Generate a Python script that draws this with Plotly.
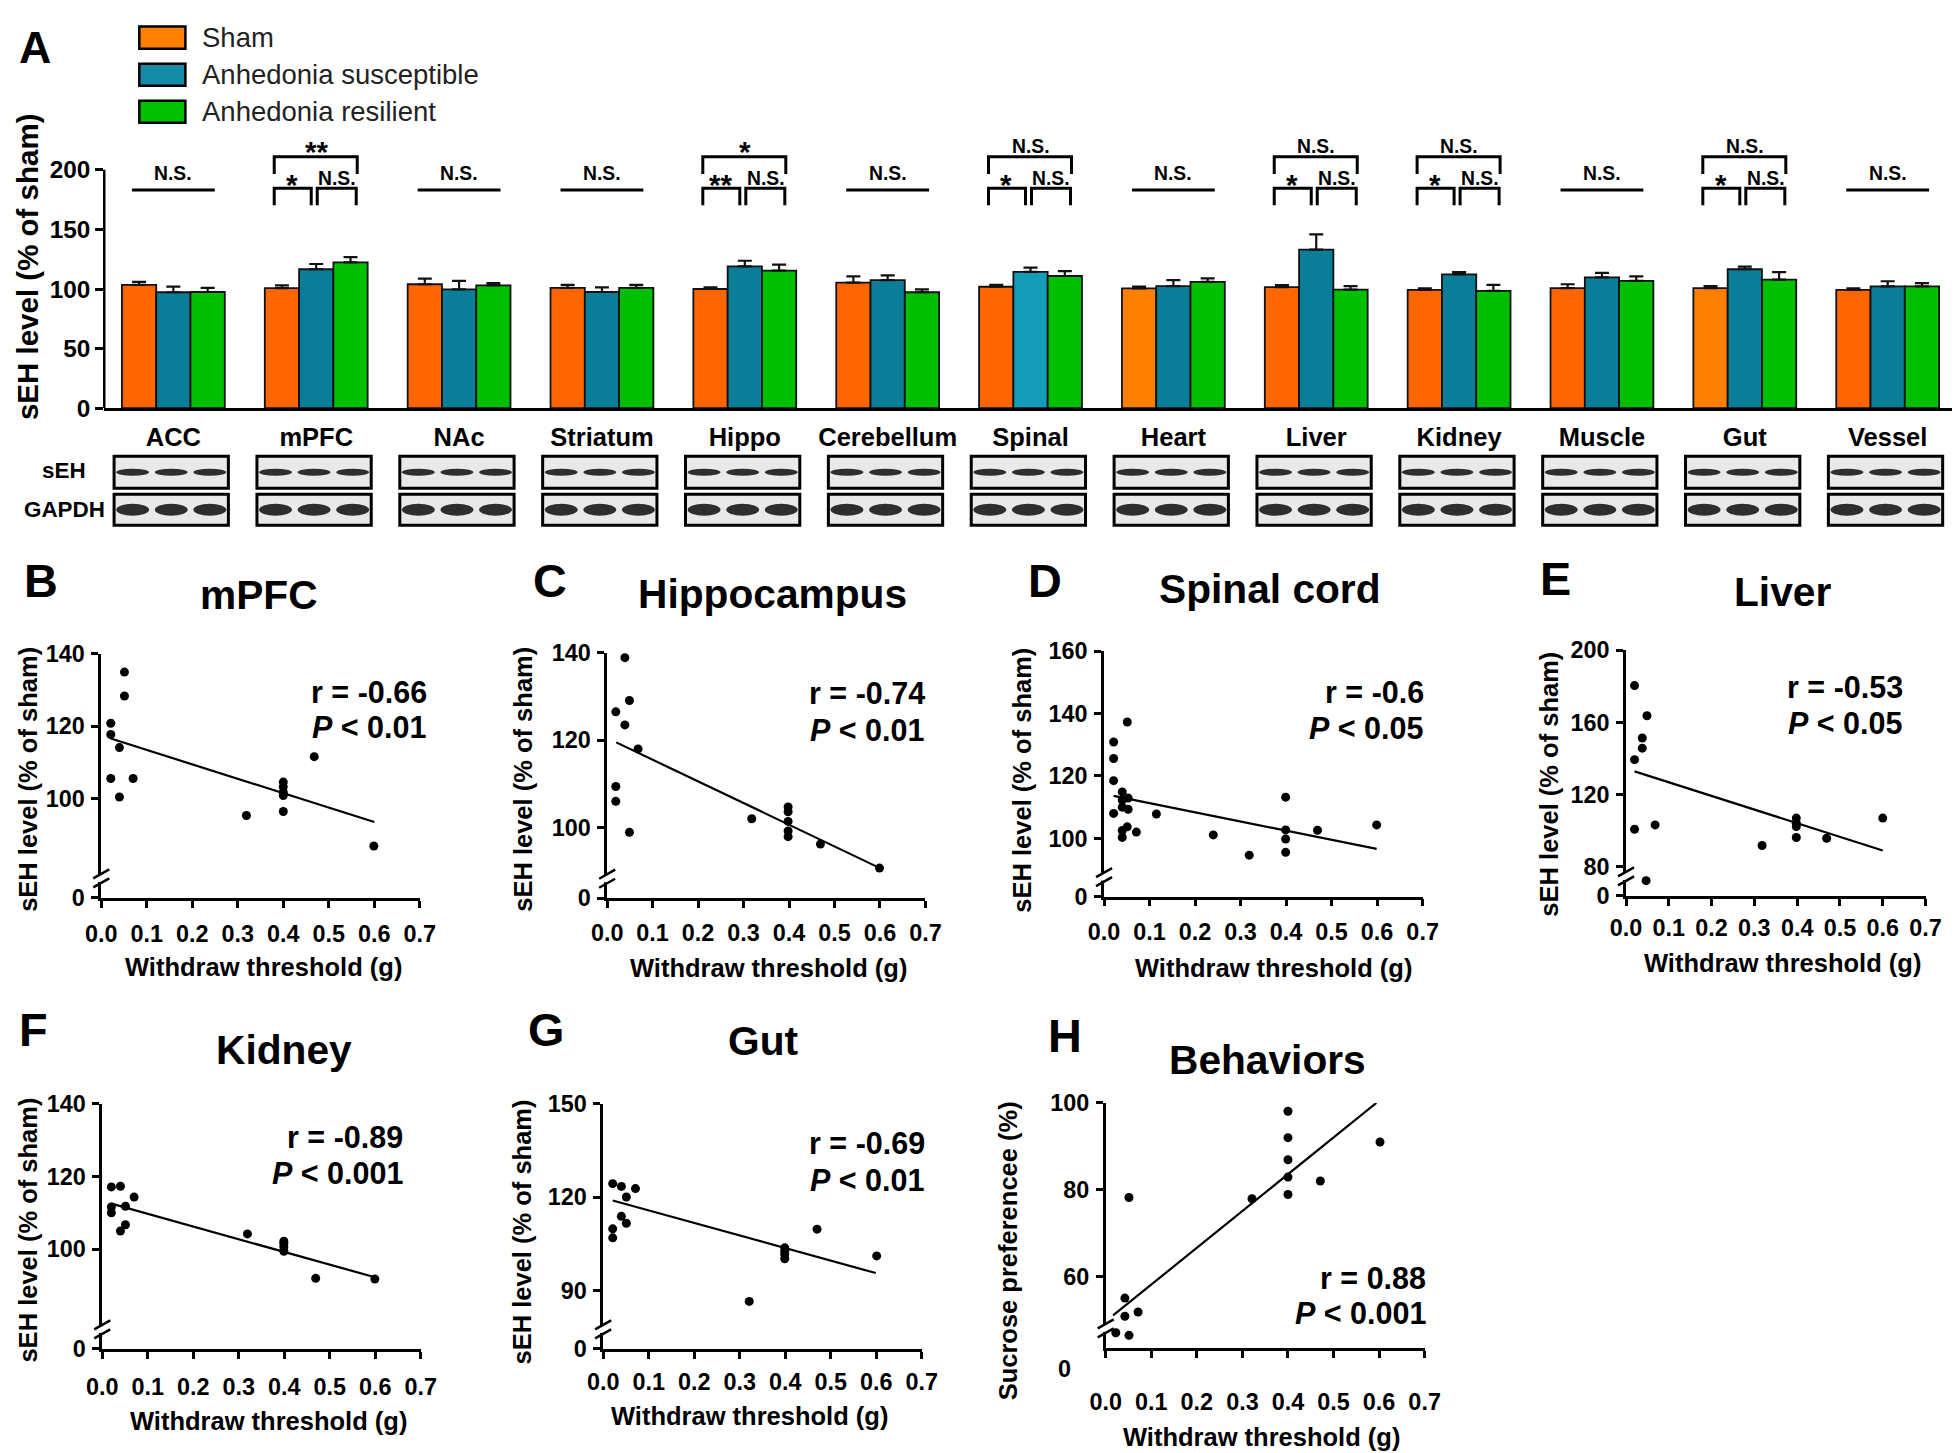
import math
import plotly.graph_objects as go

# ---- page geometry -------------------------------------------------------
# Target positions below are given in pixels of the final 1960x1453 picture.
# The page places the figure with a small offset and a slight scale; map
# picture pixels -> figure pixels with that (measured) relation.
W, H = 1960, 1453
AX, AY = 22.9, 22.4          # picture offset of the figure's top-left corner
SX, SY = 0.982, 0.980        # picture pixels per figure pixel
FIG_W = math.ceil((W - AX) / SX)
FIG_H = math.ceil((H - AY) / SY)
FS = 1 / SX                  # font compensation
FONT = "Liberation Sans, Arial, Helvetica, sans-serif"

# ---------------- Panel A data ----------------
categories = ['ACC', 'mPFC', 'NAc', 'Striatum', 'Hippo', 'Cerebellum', 'Spinal',
              'Heart', 'Liver', 'Kidney', 'Muscle', 'Gut', 'Vessel']
series_names = ['Sham', 'Anhedonia susceptible', 'Anhedonia resilient']
sham_mean = [103.5, 100.8, 104.0, 101.0, 100.0, 105.4, 101.9, 100.5, 101.6, 99.2, 100.8, 100.8, 99.2]
sham_sem = [2.5, 2.2, 4.7, 2.5, 1.4, 5.2, 1.6, 1.5, 1.7, 1.3, 3.2, 1.7, 1.3]
sus_mean = [97.3, 116.6, 99.7, 97.5, 119.0, 107.4, 114.4, 102.5, 133.0, 112.3, 109.8, 116.6, 102.2]
sus_sem = [4.7, 4.4, 7.1, 3.9, 4.7, 4.0, 3.6, 4.9, 12.8, 1.9, 3.8, 2.2, 4.3]
res_mean = [97.5, 122.3, 103.0, 101.0, 115.5, 97.3, 110.9, 106.0, 99.5, 98.4, 106.8, 107.9, 102.2]
res_sem = [3.5, 4.4, 2.0, 2.5, 4.9, 2.4, 4.1, 3.0, 3.0, 5.1, 3.8, 6.3, 2.8]
sig_all = ['N.S.', '', 'N.S.', 'N.S.', '', 'N.S.', '', 'N.S.', '', '', 'N.S.', '', 'N.S.']
sig_top = ['', '**', '', '', '*', '', 'N.S.', '', 'N.S.', 'N.S.', '', 'N.S.', '']
sig_left = ['', '*', '', '', '**', '', '*', '', '*', '*', '', '*', '']
sig_right = ['', 'N.S.', '', '', 'N.S.', '', 'N.S.', '', 'N.S.', 'N.S.', '', 'N.S.', '']
bar_ticks = [0, 50, 100, 150, 200]
blot_rows = ['sEH', 'GAPDH']

# ---------------- Panels B-H data ----------------
mpfc_x = [0.051, 0.051, 0.021, 0.021, 0.040, 0.021, 0.070, 0.040, 0.319, 0.40, 0.40, 0.40, 0.40, 0.40, 0.468, 0.599]
mpfc_y = [134.9, 128.3, 120.8, 117.7, 114.1, 105.6, 105.6, 100.5, 95.4, 104.6, 103.3, 101.8, 100.9, 96.5, 111.6, 87.0]
mpfc_fit_x = [0.021, 0.600]
mpfc_fit_y = [116.6, 93.6]

hippo_x = [0.039, 0.049, 0.019, 0.039, 0.068, 0.019, 0.019, 0.049, 0.318, 0.398, 0.398, 0.398, 0.398, 0.398, 0.469, 0.599]
hippo_y = [138.9, 129.1, 126.5, 123.5, 118.0, 109.4, 106.0, 98.9, 102.0, 104.7, 103.6, 101.4, 99.2, 97.9, 96.2, 90.7]
hippo_fit_x = [0.020, 0.600]
hippo_fit_y = [119.5, 90.7]

spinal_x = [0.021, 0.021, 0.021, 0.021, 0.051, 0.040, 0.040, 0.040, 0.053, 0.053, 0.051, 0.040,
            0.040, 0.071, 0.115, 0.240, 0.319, 0.399, 0.399, 0.399, 0.399, 0.469, 0.599]
spinal_y = [130.9, 125.6, 118.5, 108.0, 137.3, 114.9, 112.3, 110.0, 112.9, 109.3, 103.7, 102.5,
            100.3, 102.0, 107.8, 101.1, 94.6, 113.2, 102.7, 99.8, 95.5, 102.6, 104.3]
spinal_fit_x = [0.021, 0.599]
spinal_fit_y = [113.6, 96.6]

liver_x = [0.020, 0.049, 0.038, 0.038, 0.020, 0.020, 0.068, 0.047, 0.318, 0.398, 0.398, 0.398, 0.398, 0.469, 0.600]
liver_y = [180.4, 163.7, 151.3, 145.7, 139.3, 100.7, 103.1, 72.2, 91.7, 106.9, 104.1, 102.2, 96.1, 95.7, 106.9]
liver_fit_x = [0.020, 0.600]
liver_fit_y = [132.8, 88.9]

kidney_x = [0.020, 0.040, 0.020, 0.020, 0.051, 0.040, 0.051, 0.070, 0.319, 0.399, 0.399, 0.399, 0.399, 0.469, 0.599]
kidney_y = [117.1, 117.3, 111.6, 110.0, 111.8, 105.0, 106.7, 114.3, 104.2, 102.2, 101.5, 100.6, 99.4, 92.0, 91.8]
kidney_fit_x = [0.020, 0.599]
kidney_fit_y = [112.5, 92.3]

gut_x = [0.021, 0.040, 0.071, 0.051, 0.040, 0.051, 0.021, 0.021, 0.321, 0.399, 0.399, 0.399, 0.399, 0.470, 0.601]
gut_y = [124.3, 123.4, 122.7, 120.0, 113.8, 111.6, 109.8, 106.9, 86.5, 103.7, 102.6, 101.6, 100.2, 109.7, 101.1]
gut_fit_x = [0.021, 0.599]
gut_fit_y = [118.9, 95.6]

behav_x = [0.400, 0.400, 0.400, 0.400, 0.400, 0.602, 0.471, 0.321, 0.051, 0.042, 0.042, 0.071, 0.022, 0.051]
behav_y = [98.1, 92.0, 86.9, 82.9, 78.9, 91.0, 82.0, 77.9, 78.2, 55.0, 50.8, 51.8, 47.0, 46.4]
behav_fit_x = [0.016, 0.594]
behav_fit_y = [51.0, 100.0]

x_ticks = [0.0, 0.1, 0.2, 0.3, 0.4, 0.5, 0.6, 0.7]


def PX(x):
    return min(max((x - AX) / SX / FIG_W, 0.0), 1.0)


def PY(y):
    return min(max(1 - (y - AY) / SY / FIG_H, 0.0), 1.0)


def F(size):
    return round(size * FS, 1)


fig = go.Figure()
shapes = []
annotations = []


def ann(text, x, y, size, bold=True, xanchor='center', yanchor='middle', angle=0,
        xref='paper', yref='paper', yshift=0, color='black'):
    annotations.append(dict(
        text=text, x=x, y=y, xref=xref, yref=yref, showarrow=False,
        xanchor=xanchor, yanchor=yanchor, textangle=angle, yshift=yshift,
        font=dict(family=FONT, size=F(size), color=color, weight='bold' if bold else 'normal')))


# ---------------- Panel A ----------------
bar_colors = ['#FF6600', '#0A7E98', '#00BE00']
legend_colors = ['#FF8000', '#168BA8', '#00C000']
color_override = {('Sham', 'Heart'): '#FF8000', ('Sham', 'Gut'): '#FF8000',
                  ('Anhedonia susceptible', 'Spinal'): '#159CB9'}
cat_idx = list(range(len(categories)))
for name, m, s, c in zip(series_names, [sham_mean, sus_mean, res_mean],
                         [sham_sem, sus_sem, res_sem], bar_colors):
    cols = [color_override.get((name, cat), c) for cat in categories]
    fig.add_trace(go.Bar(
        x=cat_idx, y=m, name=name, showlegend=False,
        marker=dict(color=cols, line=dict(color='#111111', width=1.8)),
        error_y=dict(type='data', symmetric=False, array=s, arrayminus=[0] * len(s),
                     color='#111111', thickness=2.2, width=7),
        xaxis='x', yaxis='y'))

BAR_AX_X, BAR_END_X = 103, 1956
CAT0_X, CAT_STEP = 172.0, 142.6
BAR_BASE = 409
BAR_SCALE = 1.19          # picture px per data unit
Y_TOP = 232
layout_axes = {}
layout_axes['xaxis'] = dict(
    domain=[PX(BAR_AX_X), PX(BAR_END_X)],
    range=[(BAR_AX_X - CAT0_X) / CAT_STEP, (BAR_END_X - CAT0_X) / CAT_STEP], anchor='y',
    tickvals=cat_idx, ticktext=categories, ticks='', showline=True,
    linecolor='black', linewidth=2.5, showgrid=False, zeroline=False,
    tickfont=dict(family=FONT, size=F(25), color='black', weight='bold'),
    ticklabelstandoff=4)
layout_axes['yaxis'] = dict(
    domain=[PY(BAR_BASE), PY(BAR_BASE - Y_TOP * BAR_SCALE)], range=[0, Y_TOP], anchor='x',
    tickvals=bar_ticks, ticks='outside', ticklen=8, tickwidth=2.5, tickcolor='black',
    showline=False, showgrid=False, zeroline=False,
    tickfont=dict(family=FONT, size=F(24), color='black', weight='bold'))
# y axis line of panel A (stops at 200)
shapes.append(dict(type='line', xref='paper', yref='y', x0=PX(BAR_AX_X), x1=PX(BAR_AX_X),
                   y0=0, y1=bar_ticks[-1], line=dict(color='black', width=2.5)))

# significance brackets (heights in data units)
NS_LINE, NS_TEXT = 183.0, 196.8
LOW_FOOT, LOW_TOP, TOP_FOOT, TOP_TOP = 170.2, 184.6, 196.4, 210.9
LOW_TEXT_L, LOW_TEXT_R, TOP_TEXT = 192.2, 193.1, 219.6
LW = 3
for i in cat_idx:
    if sig_all[i]:
        shapes.append(dict(type='line', xref='x', yref='y', x0=i - 0.29, x1=i + 0.29,
                           y0=NS_LINE, y1=NS_LINE, line=dict(color='black', width=LW)))
        ann(sig_all[i], i, NS_TEXT, 19, xref='x', yref='y')
    else:
        for (xa, xb, ylo, yhi) in [(i - 0.294, i - 0.035, LOW_FOOT, LOW_TOP),
                                   (i + 0.007, i + 0.28, LOW_FOOT, LOW_TOP),
                                   (i - 0.294, i + 0.287, TOP_FOOT, TOP_TOP)]:
            shapes.append(dict(type='path', xref='x', yref='y',
                               path=f'M {xa},{ylo} L {xa},{yhi} L {xb},{yhi} L {xb},{ylo}',
                               line=dict(color='black', width=LW)))
        for txt, xx, yy in [(sig_left[i], i - 0.17, LOW_TEXT_L), (sig_right[i], i + 0.145, LOW_TEXT_R),
                            (sig_top[i], i, TOP_TEXT)]:
            star = '*' in txt
            ann(txt, xx, yy, 29 if star else 19, xref='x', yref='y', yshift=-5 if star else 0)

# legend (drawn manually)
for k, (name, c) in enumerate(zip(series_names, legend_colors)):
    yc = 39 + 37 * k
    shapes.append(dict(type='rect', xref='paper', yref='paper', x0=PX(138), x1=PX(184),
                       y0=PY(yc + 11), y1=PY(yc - 11), fillcolor=c,
                       line=dict(color='black', width=2.5)))
    ann(name, PX(199), PY(yc), 27, bold=False, xanchor='left', color='#222222')

ann('A', PX(34), PY(48), 44)
ann('sEH level (% of sham)', PX(27), PY(268), 29, angle=-90)

# western blot strips (schematic)
row_y = {'sEH': (457, 489, 3.5), 'GAPDH': (495, 526, 6.0)}
for row in blot_rows:
    y_top, y_bot, half = row_y[row]
    ann(row, PX(63), PY((y_top + y_bot) / 2 - 2 if row == 'sEH' else (y_top + y_bot) / 2), 22)
    for i in cat_idx:
        cx = i - 0.015
        shapes.append(dict(type='rect', xref='x', yref='paper', x0=cx - 0.4, x1=cx + 0.4,
                           y0=PY(y_bot), y1=PY(y_top), fillcolor='#e9e9e9',
                           line=dict(color='black', width=3)))
        yc = (y_top + y_bot) / 2
        for lane in (-1, 0, 1):
            shapes.append(dict(type='circle', xref='x', yref='paper',
                               x0=cx + lane * 0.27 - 0.115, x1=cx + lane * 0.27 + 0.115,
                               y0=PY(yc + half), y1=PY(yc - half),
                               fillcolor='#2e2e2e', line=dict(width=0)))

# ---------------- Panels B-H ----------------
panels = [
    dict(letter='B', title='mPFC', x=mpfc_x, y=mpfc_y, fx=mpfc_fit_x, fy=mpfc_fit_y,
         r='r = -0.66', p='0.01', yticks=[100, 120, 140], ymin=72.7, ymax=140,
         ylabel='sEH level (% of sham)', box=(100, 418, 654, 898), letter_xy=(40, 582),
         title_xy=(257, 596), stat=(427, 692, 727), xt=(262, 967), yt=(27, 780), xstand=6),
    dict(letter='C', title='Hippocampus', x=hippo_x, y=hippo_y, fx=hippo_fit_x, fy=hippo_fit_y,
         r='r = -0.74', p='0.01', yticks=[100, 120, 140], ymin=83.8, ymax=140,
         ylabel='sEH level (% of sham)', box=(605, 922.7, 653.3, 898.3), letter_xy=(548, 582),
         title_xy=(770, 595), stat=(924, 693, 730), xt=(766, 968), yt=(521, 780), xstand=5),
    dict(letter='D', title='Spinal cord', x=spinal_x, y=spinal_y, fx=spinal_fit_x, fy=spinal_fit_y,
         r='r = -0.6', p='0.05', yticks=[100, 120, 140, 160], ymin=81.3, ymax=160,
         ylabel='sEH level (% of sham)', box=(1101, 1419, 651.7, 896.7), letter_xy=(1042, 582),
         title_xy=(1267, 590), stat=(1422, 692, 728), xt=(1270, 968), yt=(1019, 780), xstand=6),
    dict(letter='E', title='Liver', x=liver_x, y=liver_y, fx=liver_fit_x, fy=liver_fit_y,
         r='r = -0.53', p='0.05', yticks=[80, 120, 160, 200], ymin=63.7, ymax=200,
         ylabel='sEH level (% of sham)', box=(1622, 1921, 650.7, 896), letter_xy=(1552, 580),
         title_xy=(1778, 593), stat=(1900, 687, 723), xt=(1778, 963), yt=(1545, 784), xstand=2),
    dict(letter='F', title='Kidney', x=kidney_x, y=kidney_y, fx=kidney_fit_x, fy=kidney_fit_y,
         r='r = -0.89', p='0.001', yticks=[100, 120, 140], ymin=72.6, ymax=140,
         ylabel='sEH level (% of sham)', box=(101, 419, 1103.3, 1348.3), letter_xy=(32, 1030),
         title_xy=(282, 1050), stat=(403, 1137, 1173), xt=(267, 1420), yt=(27, 1230), xstand=8),
    dict(letter='G', title='Gut', x=gut_x, y=gut_y, fx=gut_fit_x, fy=gut_fit_y,
         r='r = -0.69', p='0.01', yticks=[90, 120, 150], ymin=71.25, ymax=150,
         ylabel='sEH level (% of sham)', box=(601, 919, 1103.3, 1348.3), letter_xy=(544, 1030),
         title_xy=(761, 1041), stat=(924, 1143, 1180), xt=(747, 1415), yt=(520, 1232), xstand=3),
    dict(letter='H', title='Behaviors', x=behav_x, y=behav_y, fx=behav_fit_x, fy=behav_fit_y,
         r='r = 0.88', p='0.001', yticks=[60, 80, 100], ymin=43.5, ymax=100,
         ylabel='Sucrose preferencee (%)', box=(1102.7, 1421, 1102.7, 1347.3), letter_xy=(1062, 1036),
         title_xy=(1264, 1060), stat=(1424, 1277, 1312), xt=(1258, 1436), yt=(1006, 1250), xstand=24),
]

for k, p in enumerate(panels, start=2):
    x0, x1, ytop, ybot = p['box']
    xa, ya = f'x{k}', f'y{k}'
    fig.add_trace(go.Scatter(x=p['x'], y=p['y'], mode='markers', cliponaxis=False,
                             marker=dict(size=9, color='black'), showlegend=False,
                             xaxis=xa, yaxis=ya))
    fig.add_trace(go.Scatter(x=p['fx'], y=p['fy'], mode='lines', cliponaxis=False,
                             line=dict(color='black', width=2.2), showlegend=False,
                             xaxis=xa, yaxis=ya))
    if p['letter'] == 'H':
        yt_vals, yt_text = p['yticks'], [str(v) for v in p['yticks']]
        ann('0', PX(1062), PY(1368), 23)
    else:
        yt_vals = [p['ymin']] + p['yticks']
        yt_text = ['0'] + [str(v) for v in p['yticks']]
    layout_axes[f'xaxis{k}'] = dict(
        domain=[PX(x0), PX(x1)], range=[0, 0.7], anchor=ya, tickvals=x_ticks,
        tickformat='.1f', ticks='outside', ticklen=7, tickwidth=2.5, tickcolor='black',
        showline=True, linecolor='black', linewidth=2.5, showgrid=False, zeroline=False,
        ticklabelstandoff=p['xstand'],
        tickfont=dict(family=FONT, size=F(23), color='black', weight='bold'))
    layout_axes[f'yaxis{k}'] = dict(
        domain=[PY(ybot), PY(ytop)], range=[p['ymin'], p['ymax']], anchor=xa,
        tickvals=yt_vals, ticktext=yt_text, ticks='outside', ticklen=7, tickwidth=2.5,
        tickcolor='black', showline=True, linecolor='black', linewidth=2.5,
        showgrid=False, zeroline=False, ticklabelstandoff=2,
        tickfont=dict(family=FONT, size=F(23), color='black', weight='bold'))
    # axis break marks
    shapes.append(dict(type='rect', xref='paper', yref='paper', x0=PX(x0 - 3.5), x1=PX(x0 + 3.5),
                       y0=PY(ybot - 16), y1=PY(ybot - 23), fillcolor='white', line=dict(width=0)))
    for c in (ybot - 24, ybot - 15):
        shapes.append(dict(type='line', xref='paper', yref='paper', x0=PX(x0 - 8), x1=PX(x0 + 8),
                           y0=PY(c + 4.5), y1=PY(c - 4.5), line=dict(color='black', width=2.5)))
    # texts
    ann(p['letter'], PX(p['letter_xy'][0]), PY(p['letter_xy'][1]), 46)
    ann(p['title'], PX(p['title_xy'][0]), PY(p['title_xy'][1]), 40)
    sx, ry, py_ = p['stat']
    ann(p['r'], PX(sx), PY(ry), 30, xanchor='right')
    ann('<i>P</i> &lt; ' + p['p'], PX(sx), PY(py_), 30, xanchor='right')
    ann('Withdraw threshold (g)', PX(p['xt'][0]), PY(p['xt'][1]), 25)
    ann(p['ylabel'], PX(p['yt'][0]), PY(p['yt'][1]), 25, angle=-90)

fig.update_layout(
    width=FIG_W, height=FIG_H, margin=dict(l=0, r=0, t=0, b=0),
    paper_bgcolor='white', plot_bgcolor='rgba(0,0,0,0)',
    barmode='group', bargap=0.28, bargroupgap=0.0,
    shapes=shapes, annotations=annotations, showlegend=False,
    font=dict(family=FONT, color='black'),
    **layout_axes)

fig.write_html('out.html')
